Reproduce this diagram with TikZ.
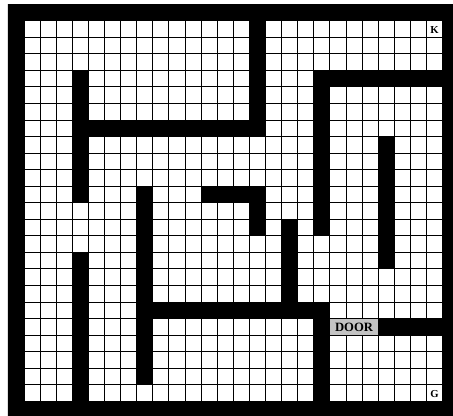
\documentclass[tikz,border=0pt]{standalone}
\usepackage{fontspec}
\setmainfont{Liberation Serif}
\usepackage{tikz}
\usepackage{xcolor}
\definecolor{doorgray}{RGB}{195,195,195}

\begin{document}
\begin{tikzpicture}[x=12.075pt,y=-12.4125pt,
  wall/.style={fill=black},
  gridline/.style={draw=black,line width=0.7pt},
  celllabel/.style={font=\bfseries\fontsize{8}{8}\selectfont,inner sep=0pt},
  doorbox/.style={draw=black,line width=0.7pt,fill=doorgray,minimum width=36.225pt,minimum height=12.4125pt,inner sep=0pt,font=\bfseries\fontsize{9.5}{9.5}\selectfont}]
\useasboundingbox (-0.4907,-0.2508) rectangle (27.646,24.885);
\fill[white] (-0.4907,-0.2508) rectangle (27.646,24.885);
\foreach \c in {1,...,27} \draw[gridline] (\c,1) -- (\c,24);
\foreach \r in {1,...,24} \draw[gridline] (1,\r) -- (27,\r);
\fill[wall,even odd rule] (0,0) rectangle (28,25) (1,1) rectangle (27,24);
\foreach \ca/\ra/\cb/\rb in {15/1/15/7, 4/7/15/7, 4/4/4/11, 4/15/4/23, 19/4/26/4, 19/4/19/13,
  12/11/15/11, 15/11/15/13, 8/11/8/22, 17/13/17/18, 8/18/19/18, 19/18/19/23, 23/8/23/15, 23/19/26/19}
  \fill[wall] (\ca,\ra) rectangle (\cb+1,\rb+1);
\node[doorbox] (door) at (21.5,19.5) {DOOR};
\node[celllabel] (k) at (26.5,1.55) {K};
\node[celllabel] (g) at (26.5,23.55) {G};
\end{tikzpicture}
\end{document}
